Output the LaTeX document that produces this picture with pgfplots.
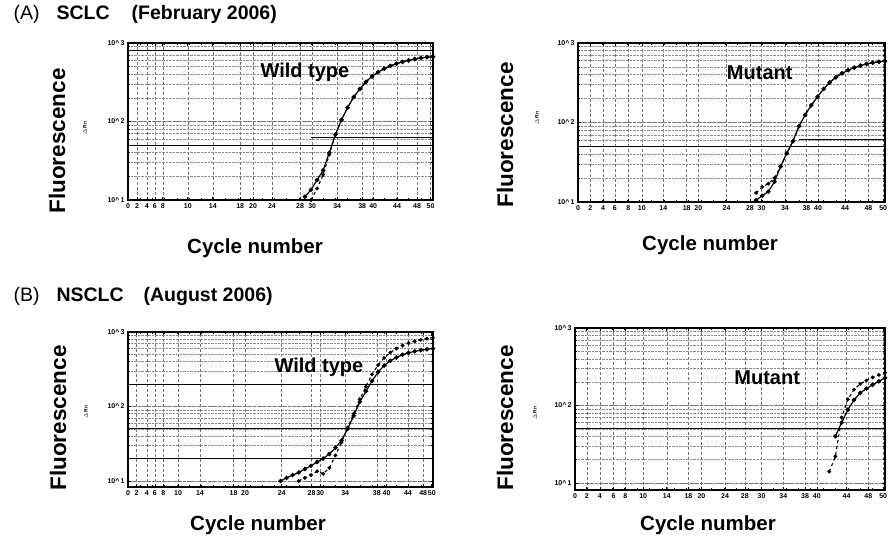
\documentclass[border=0pt]{standalone}
\usepackage{pgfplots}
\pgfplotsset{compat=1.18}
\usepackage{fontspec}
\setmainfont{Liberation Sans}

\pgfplotsset{
  qpcrpanel/.style={
    scale only axis, xmin=0, xmax=50, ymax=1000,
    axis line style={line width=1.1pt},
    xticklabels={0,2,4,6,8,10,14,18,20,24,28,30,34,38,40,44,48,50},
    minor xtick={2,4,...,48},
    ytick={10,100,1000},
    yticklabels={10\textasciicircum\,1,10\textasciicircum\,2,10\textasciicircum\,3},
    tick label style={font=\fontsize{7}{8}\selectfont\bfseries},
    xmajorgrids, ymajorgrids, yminorgrids,
    major grid style={densely dashed, black!55, line width=0.5pt},
    minor grid style={densely dotted, black!45, line width=0.5pt},
    tick align=inside, tick style={black, line width=0.6pt},
    major tick length=3pt, minor tick length=2pt,
  },
}
\tikzset{
  wt/.style={black, line width=1.2pt, mark=*, mark size=1.6pt},
  wtd/.style={black, line width=1.1pt, dashed, mark=*, mark size=1.3pt, mark options={solid}},
  thr/.style={black, line width=1.1pt},
  hl/.style={black, line width=0.8pt},
  lab/.style={font=\bfseries\fontsize{20}{24}\selectfont},
}

\begin{document}
\begin{tikzpicture}
\useasboundingbox (0,0) rectangle (890pt,538pt);

% (A) left: wild type
\begin{axis}[ymode=log, qpcrpanel, at={(128pt,338pt)}, anchor=south west, width=305pt, height=157pt, ymin=10,
  xtick={0,1.5,3.1,4.4,5.7,9.8,13.9,18.4,20.5,23.6,28.2,30.2,34.3,38.4,40.2,44.1,47.4,49.6}]
\addplot[thr] coordinates {(0,50) (50,50)};
\addplot[hl] coordinates {(0,800) (50,800)};
\addplot[hl] coordinates {(30,62) (50,62)};
\addplot[wtd] coordinates {(30,10) (31,14) (32,21) (33,38) (34,68) (35,105) (36,150) (37,205) (38,260) (39,320) (40,375) (41,425) (42,470) (43,510) (44,545) (45,575) (46,600) (47,625) (48,645) (49,660) (50,670)};
\addplot[wt] coordinates {(29,11) (30,13.5) (31,18) (32,24) (33,40) (34,68) (35,105) (36,150) (37,205) (38,260) (39,320) (40,375) (41,425) (42,470) (43,510) (44,545) (45,575) (46,600) (47,625) (48,645) (49,660) (50,670)};
\node[lab] at (axis cs:29,427) {Wild type};
\end{axis}

% (A) right: mutant
\begin{axis}[ymode=log, qpcrpanel, at={(578pt,336pt)}, anchor=south west, width=307pt, height=159pt, ymin=10,
  xtick={0,2,4.1,6,8.2,10.4,13.9,17.7,19.6,24.2,28,29.9,33.7,37.2,39.1,43.5,47.3,49.7}]
\addplot[thr] coordinates {(0,50) (50,50)};
\addplot[hl] coordinates {(36,62) (50,62)};
\addplot[wtd] coordinates {(29,13) (30,15.5) (31,17) (32,20) (33,28) (34,41) (35,58) (36,90) (37,125) (38,165) (39,210) (40,265) (41,320) (42,370) (43,415) (44,455) (45,490) (46,520) (47,545) (48,565) (49,580) (50,592)};
\addplot[wt] coordinates {(29,10.5) (30,12) (31,13.5) (32,18) (33,28) (34,41) (35,58) (36,90) (37,125) (38,165) (39,210) (40,265) (41,320) (42,370) (43,415) (44,455) (45,490) (46,520) (47,545) (48,565) (49,580) (50,592)};
\node[lab] at (axis cs:29.6,420) {Mutant};
\end{axis}

% (B) left: wild type
\begin{axis}[ymode=log, qpcrpanel, at={(128pt,51pt)}, anchor=south west, width=305pt, height=155pt, ymin=8.3,
  xtick={0,1.4,3.1,4.4,5.8,8.2,11.8,17.3,19.2,25.2,30.1,31.5,35.6,40.8,42.4,45.9,48.4,49.8}]
\addplot[thr] coordinates {(0,50) (50,50)};
\addplot[hl] coordinates {(0,200) (50,200)};
\addplot[hl] coordinates {(0,20) (50,20)};
\addplot[wtd] coordinates {(28,10) (29,11) (30,12) (31,13.5) (32,12.5) (33,15) (34,22) (35,33) (36,52) (37,80) (38,125) (39,185) (40,270) (41,360) (42,450) (43,530) (44,600) (45,660) (46,710) (47,750) (48,785) (49,815) (50,840)};
\addplot[wt] coordinates {(25,10) (26,11) (27,12) (28,13) (29,14.5) (30,16) (31,18) (32,20) (33,23) (34,28) (35,35) (36,50) (37,75) (38,115) (39,160) (40,220) (41,290) (42,355) (43,410) (44,455) (45,495) (46,525) (47,550) (48,570) (49,585) (50,600)};
\node[lab] at (axis cs:31.3,339) {Wild type};
\end{axis}

% (B) right: mutant
\begin{axis}[ymode=log, qpcrpanel, at={(575pt,48pt)}, anchor=south west, width=310pt, height=162pt, ymin=8.1,
  xtick={0,1.9,4,6.2,8.1,11,14.8,18.3,20.4,24.2,27.4,30.1,33.6,37.1,39,43.8,47.3,49.7}]
\addplot[thr] coordinates {(0,50) (50,50)};
\addplot[wtd] coordinates {(41,14) (42,22) (43,70) (44,120) (45,160) (46,190) (47,210) (48,230) (49,248) (50,265)};
\addplot[wt] coordinates {(42,40) (43,60) (44,88) (45,118) (46,145) (47,165) (48,185) (49,205) (50,228)};
\node[lab] at (axis cs:31,229) {Mutant};
\end{axis}

% panel titles
\node[anchor=west, font=\fontsize{19.5}{22}\selectfont] at (10pt,524pt) {(A)\hspace*{17pt}\textbf{SCLC}\hspace*{22pt}\textbf{(February 2006)}};
\node[anchor=west, font=\fontsize{19.5}{22}\selectfont] at (10pt,241pt) {(B)\hspace*{17pt}\textbf{NSCLC}\hspace*{20pt}\textbf{(August 2006)}};

% axis titles
\foreach \x/\y in {57/397, 505/403, 58/120, 505/120}
  \node[rotate=90, font=\bfseries\fontsize{22.5}{26}\selectfont] at (\x pt,\y pt) {Fluorescence};
\foreach \x/\y in {85/410, 537/420, 86/126, 535/125}
  \node[rotate=90, font=\bfseries\fontsize{5}{6}\selectfont] at (\x pt,\y pt) {$\Delta$Rn};
\foreach \x/\y in {255/290, 710/293, 258/13, 708/13}
  \node[font=\bfseries\fontsize{20.5}{24}\selectfont] at (\x pt,\y pt) {Cycle number};
\end{tikzpicture}
\end{document}
